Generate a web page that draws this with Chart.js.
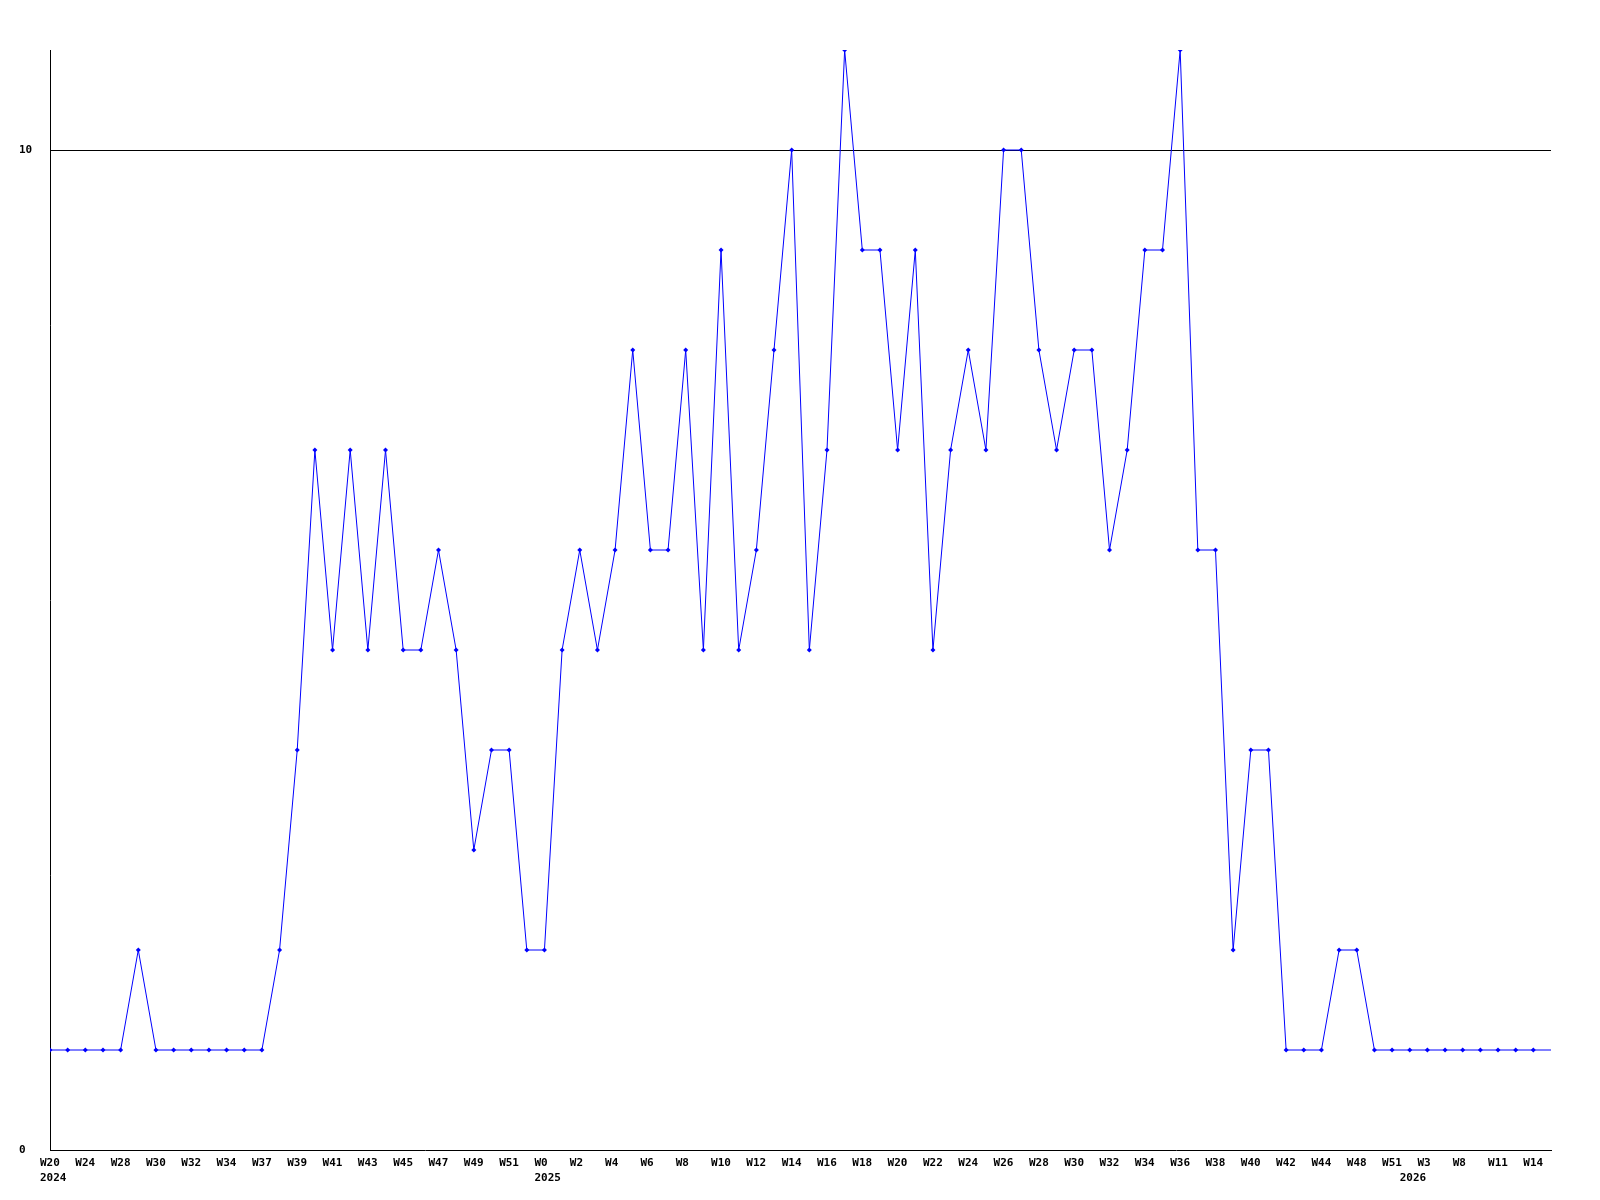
<!DOCTYPE html>
<html>
<head>
<meta charset="utf-8">
<script src="https://cdn.jsdelivr.net/npm/chart.js@4.4.0/dist/chart.umd.min.js"></script>
<style>
    html, body { margin: 0; padding: 0; background: #fff; }
    #box { width: 1600px; height: 1200px; }
</style>
</head>
<body>
<div id="box"><canvas id="grafico"></canvas></div>
<script>
// semanas mostradas no eixo (pontos sem rótulo ficam vazios)
const semanas = [
    "W20", "", "W24", "", "W28", "", "W30", "", "W32", "", "W34", "", "W37", "", "W39", "", "W41", "", "W43", "",
    "W45", "", "W47", "", "W49", "", "W51", "", "W0", "", "W2", "", "W4", "", "W6", "", "W8", "", "W10", "",
    "W12", "", "W14", "", "W16", "", "W18", "", "W20", "", "W22", "", "W24", "", "W26", "", "W28", "", "W30", "",
    "W32", "", "W34", "", "W36", "", "W38", "", "W40", "", "W42", "", "W44", "", "W48", "", "W51", "", "W3", "",
    "W8", "", "W11", "", "W14"
];
const anos = [];
anos[0] = "2024";
anos[28] = "2025";
anos[77] = "2026";

const valores = [
    1, 1, 1, 1, 1, 2, 1, 1, 1, 1,
    1, 1, 1, 2, 4, 7, 5, 7, 5, 7,
    5, 5, 6, 5, 3, 4, 4, 2, 2, 5,
    6, 5, 6, 8, 6, 6, 8, 5, 9, 5,
    6, 8, 10, 5, 7, 11, 9, 9, 7, 9,
    5, 7, 8, 7, 10, 10, 8, 7, 8, 8,
    6, 7, 9, 9, 11, 6, 6, 2, 4, 4,
    1, 1, 1, 2, 2, 1, 1, 1, 1, 1,
    1, 1, 1, 1, 1
];
const ticksY = [0, 10];

const fonte = "bold 11px 'DejaVu Sans Mono', monospace";

// rótulos do eixo x e prolongamento da linha até a borda direita
const extrasPlugin = {
    id: "extras",
    afterDatasetsDraw(chart) {
        const ctx = chart.ctx;
        const meta = chart.getDatasetMeta(0);
        const ultimo = meta.data[meta.data.length - 1];
        ctx.save();
        ctx.strokeStyle = "#0000ff";
        ctx.lineWidth = 1;
        ctx.beginPath();
        ctx.moveTo(ultimo.x, ultimo.y);
        ctx.lineTo(chart.chartArea.right, ultimo.y);
        ctx.stroke();
        ctx.restore();
    },
    afterDraw(chart) {
        const ctx = chart.ctx;
        const escalaX = chart.scales.x;
        const base = chart.chartArea.bottom;
        ctx.save();
        ctx.font = fonte;
        ctx.fillStyle = "#000";
        ctx.textAlign = "left";
        ctx.textBaseline = "middle";
        semanas.forEach((s, i) => {
            const px = escalaX.getPixelForValue(i);
            if (s) ctx.fillText(s, px - 10, base + 13);
            if (anos[i]) ctx.fillText(anos[i], px - 10, base + 28);
        });
        ctx.restore();
    }
};

new Chart(document.getElementById("grafico"), {
    type: "line",
    data: {
        datasets: [{
            data: valores.map((v, i) => ({ x: i, y: v })),
            borderColor: "#0000ff",
            backgroundColor: "#0000ff",
            borderWidth: 1,
            pointStyle: "rectRot",
            pointRadius: 2.5,
            pointBorderWidth: 0,
            tension: 0
        }]
    },
    options: {
        responsive: true,
        maintainAspectRatio: false,
        animation: false,
        layout: { padding: { left: 19, top: 50, right: 49, bottom: 0 } },
        plugins: {
            legend: { display: false },
            tooltip: { enabled: false }
        },
        scales: {
            x: {
                type: "linear",
                min: 0,
                max: semanas.length,
                grid: { display: false, drawTicks: false },
                border: { color: "#000", width: 1 },
                ticks: { display: false },
                afterFit: s => { s.height = 50; }
            },
            y: {
                min: 0,
                max: 11,
                afterBuildTicks: s => { s.ticks = ticksY.map(v => ({ value: v })); },
                grid: {
                    drawTicks: false,
                    color: ctx => (ctx.tick && ctx.tick.value === 10 ? "#000" : "rgba(0,0,0,0)"),
                    lineWidth: 1
                },
                border: { color: "#000", width: 1 },
                ticks: {
                    crossAlign: "far",
                    color: "#000",
                    font: { family: "'DejaVu Sans Mono', monospace", size: 11, weight: "bold" }
                },
                afterFit: s => { s.width = 31; }
            }
        }
    },
    plugins: [extrasPlugin]
});
</script>
</body>
</html>
